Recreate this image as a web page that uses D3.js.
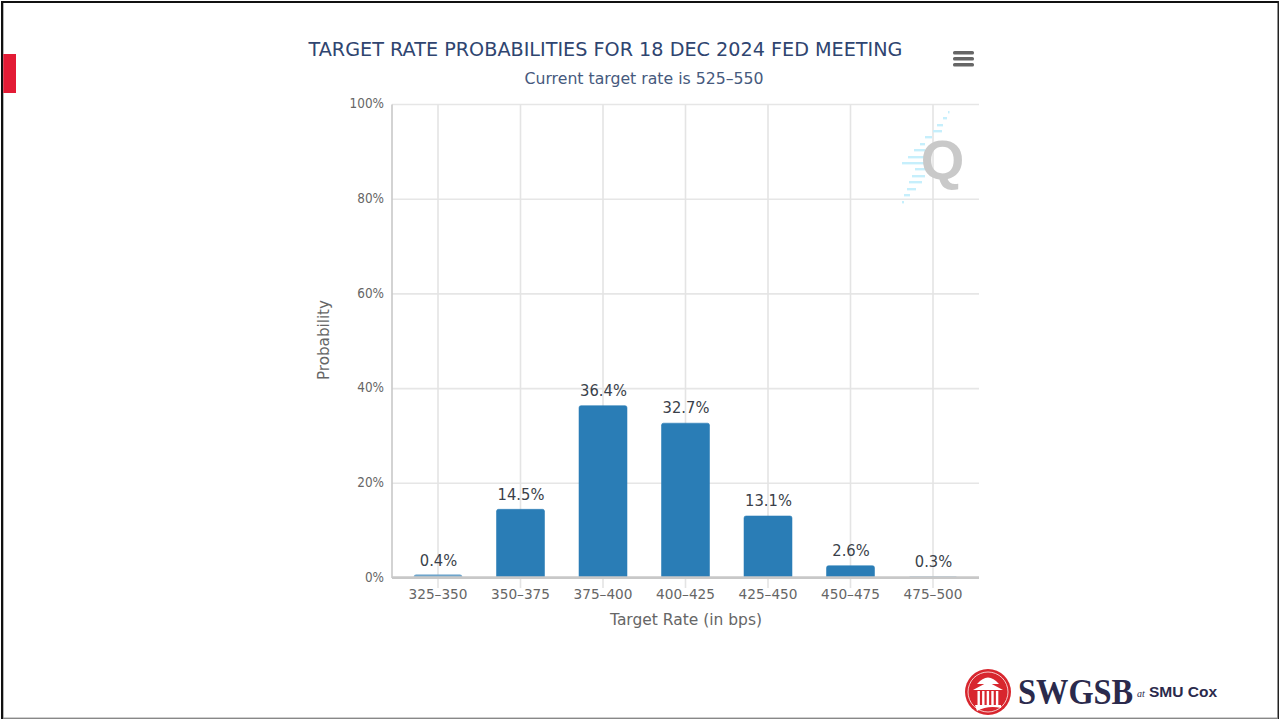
<!DOCTYPE html>
<html><head><meta charset="utf-8">
<script src="https://cdn.jsdelivr.net/npm/d3@7"></script>
<style>html,body{margin:0;padding:0;background:#fff;overflow:hidden}svg{display:block}text{font-family:"DejaVu Sans",sans-serif}</style>
</head><body><svg id="c" width="1279" height="719"></svg>
<script>
const categories=["325-350","350-375","375-400","400-425","425-450","450-475","475-500"];
const values=[0.4,14.5,36.4,32.7,13.1,2.6,0.3];
const yTicks=[0,20,40,60,80,100];
const titleText="TARGET RATE PROBABILITIES FOR 18 DEC 2024 FED MEETING";
const subtitleText="Current target rate is 525-550";
const xTitle="Target Rate (in bps)";
const yTitle="Probability";

const svg=d3.select("#c");
const L=392,R=979,T=104.5,B=578;
const x=d3.scaleBand().domain(categories).range([396.75,974.25]);
const y=d3.scaleLinear().domain([0,100]).range([B,T]);
const cx=c=>x(c)+x.bandwidth()/2;
const fit=(sel,w)=>sel.attr("textLength",w).attr("lengthAdjust","spacingAndGlyphs");
const squeeze=(sel,k)=>sel.each(function(){fit(d3.select(this),this.getComputedTextLength()*k)});

// slide frame
svg.append("rect").attr("x",1).attr("y",1).attr("width",1278).attr("height",2).attr("fill","#111");
svg.append("rect").attr("x",1).attr("y",1).attr("width",2.3).attr("height",718).attr("fill","#111");
svg.append("rect").attr("x",1277.5).attr("y",1).attr("width",1.5).attr("height",718).attr("fill","#222");
svg.append("rect").attr("x",3).attr("y",717.6).attr("width",1275).attr("height",1.4).attr("fill","#888");
svg.append("rect").attr("x",3.3).attr("y",54).attr("width",12.7).attr("height",39).attr("fill","#e31b35");

// grid
svg.append("g").selectAll("line").data(yTicks.filter(d=>d>0)).join("line")
 .attr("x1",L).attr("x2",R).attr("y1",d=>y(d)).attr("y2",d=>y(d)).attr("stroke","#e6e6e6").attr("stroke-width",1.6);
svg.append("g").selectAll("line").data(categories).join("line")
 .attr("x1",cx).attr("x2",cx).attr("y1",T).attr("y2",B+10).attr("stroke","#e4e4e4").attr("stroke-width",1.6);
svg.append("line").attr("x1",L).attr("x2",L).attr("y1",T).attr("y2",B).attr("stroke","#c8c8c8").attr("stroke-width",1.6);

// watermark: streaks as [left, right, y] and the Q
const streaks=[[948,949.5,112],[943,947,118],[937,943,125],[933,942,131],[925,932,137],[920,925,144],[914,925,150],[908,925,157],[902,925,163],[915,925,169],[912,925,176],[909,922,182],[907,916,189],[904,910,195],[902,904,202]];
const wm=svg.append("g");
wm.selectAll("rect").data(streaks).join("rect")
 .attr("x",d=>d[0]).attr("y",d=>d[2]-1).attr("width",d=>d[1]-d[0]).attr("height",2.4).attr("fill","#c6effc");
wm.append("text").attr("x",942.5).attr("y",179).attr("text-anchor","middle").attr("font-size",56).attr("font-weight",700).attr("fill","#c9c9c9").style("font-family","Liberation Sans").text("Q");

// bars: the smallest visible column keeps a minimum drawn height, as the source chart does
const bw=48,r=2,minShown=0.35,minPx=3.2;
svg.append("g").selectAll("path").data(values).join("path")
 .attr("fill",d=>d<1?"#6fa6cc":"#2a7db6").attr("stroke",d=>d<1?"#6fa6cc":"#2a7db6").attr("stroke-opacity",d=>d<minShown?0:.55)
 .attr("d",(d,i)=>{const c=cx(categories[i]),l=c-bw/2,h=d<minShown?B-y(d):Math.max(B-y(d),minPx),t=B-h,rr=Math.min(r,h);
   const p=d3.path();p.moveTo(l,B);p.lineTo(l,t+rr);p.quadraticCurveTo(l,t,l+rr,t);p.lineTo(l+bw-rr,t);p.quadraticCurveTo(l+bw,t,l+bw,t+rr);p.lineTo(l+bw,B);p.closePath();return p.toString();});

// baseline
svg.append("line").attr("x1",L).attr("x2",R).attr("y1",577.6).attr("y2",577.6).attr("stroke","#c8c8c8").attr("stroke-width",2.6);

// data labels
svg.append("g").selectAll("text").data(values).join("text")
 .attr("x",(d,i)=>cx(categories[i])+.5).attr("y",d=>y(d)-9.8)
 .attr("text-anchor","middle").attr("font-size",16).attr("fill","#3a3f4a").text(d=>d.toFixed(1)+"%").call(squeeze,.92);

// axis labels
svg.append("g").selectAll("text").data(categories).join("text")
 .attr("x",cx).attr("y",599.3).attr("text-anchor","middle").attr("font-size",14).attr("fill","#666")
 .text(d=>d.replace("-","–")).call(fit,59);
svg.append("g").selectAll("text").data(yTicks).join("text")
 .attr("x",384).attr("y",d=>y(d)+3.8).attr("text-anchor","end").attr("font-size",14).attr("fill","#666").text(d=>d+"%").call(squeeze,.86);

svg.append("text").attr("x",686).attr("y",625).attr("text-anchor","middle").attr("font-size",16).attr("fill","#666").call(fit,152).text(xTitle);
svg.append("text").attr("transform","translate(329,340) rotate(-90)").attr("text-anchor","middle").attr("font-size",16).attr("fill","#666").call(fit,80).text(yTitle);

// titles
svg.append("text").attr("x",605.5).attr("y",56).attr("text-anchor","middle").attr("font-size",19.5).attr("fill","#2f4570").call(fit,594).text(titleText);
svg.append("text").attr("x",644).attr("y",84).attr("text-anchor","middle").attr("font-size",16.5).attr("fill","#46597d").call(fit,239).text(subtitleText.replace("-","–"));

// menu icon
svg.append("g").selectAll("rect").data([0,1,2]).join("rect")
 .attr("x",953).attr("y",d=>51+d*6).attr("width",21).attr("height",3.6).attr("rx",1.6).attr("fill","#666");

// logo
const lg=svg.append("g");
lg.append("circle").attr("cx",988).attr("cy",692).attr("r",23).attr("fill","#d8262e");
lg.append("circle").attr("cx",988).attr("cy",692).attr("r",20).attr("fill","none").attr("stroke","#f6c9c9").attr("stroke-width",1);
lg.append("path").attr("d","M977 684 Q988 671 999 684 Z").attr("fill","#fff");
lg.append("path").attr("d","M973 690 L988 682 L1003 690 Z").attr("fill","#fff");
lg.selectAll(".col").data([0,1,2,3,4]).join("rect").attr("x",d=>977.5+d*4.6).attr("y",691).attr("width",2.4).attr("height",14).attr("fill","#fff");
lg.append("path").attr("d","M975 705 H1001 V708 Q988 705 977 711 Z").attr("fill","#fff");
lg.append("text").attr("transform","translate(1018,704) scale(0.9,1)").attr("font-size",36).attr("font-weight",700).attr("fill","#2b2a4c").style("font-family","Liberation Serif").text("SWGSB");
lg.append("text").attr("x",1137).attr("y",697).attr("font-size",10).attr("font-style","italic").attr("fill","#2b2a4c").style("font-family","Liberation Serif").text("at");
lg.append("text").attr("transform","translate(1149,697) scale(1.11,1)").attr("font-size",14).attr("font-weight",700).attr("fill","#2b2a4c").style("font-family","Liberation Sans").text("SMU Cox");
</script></body></html>
